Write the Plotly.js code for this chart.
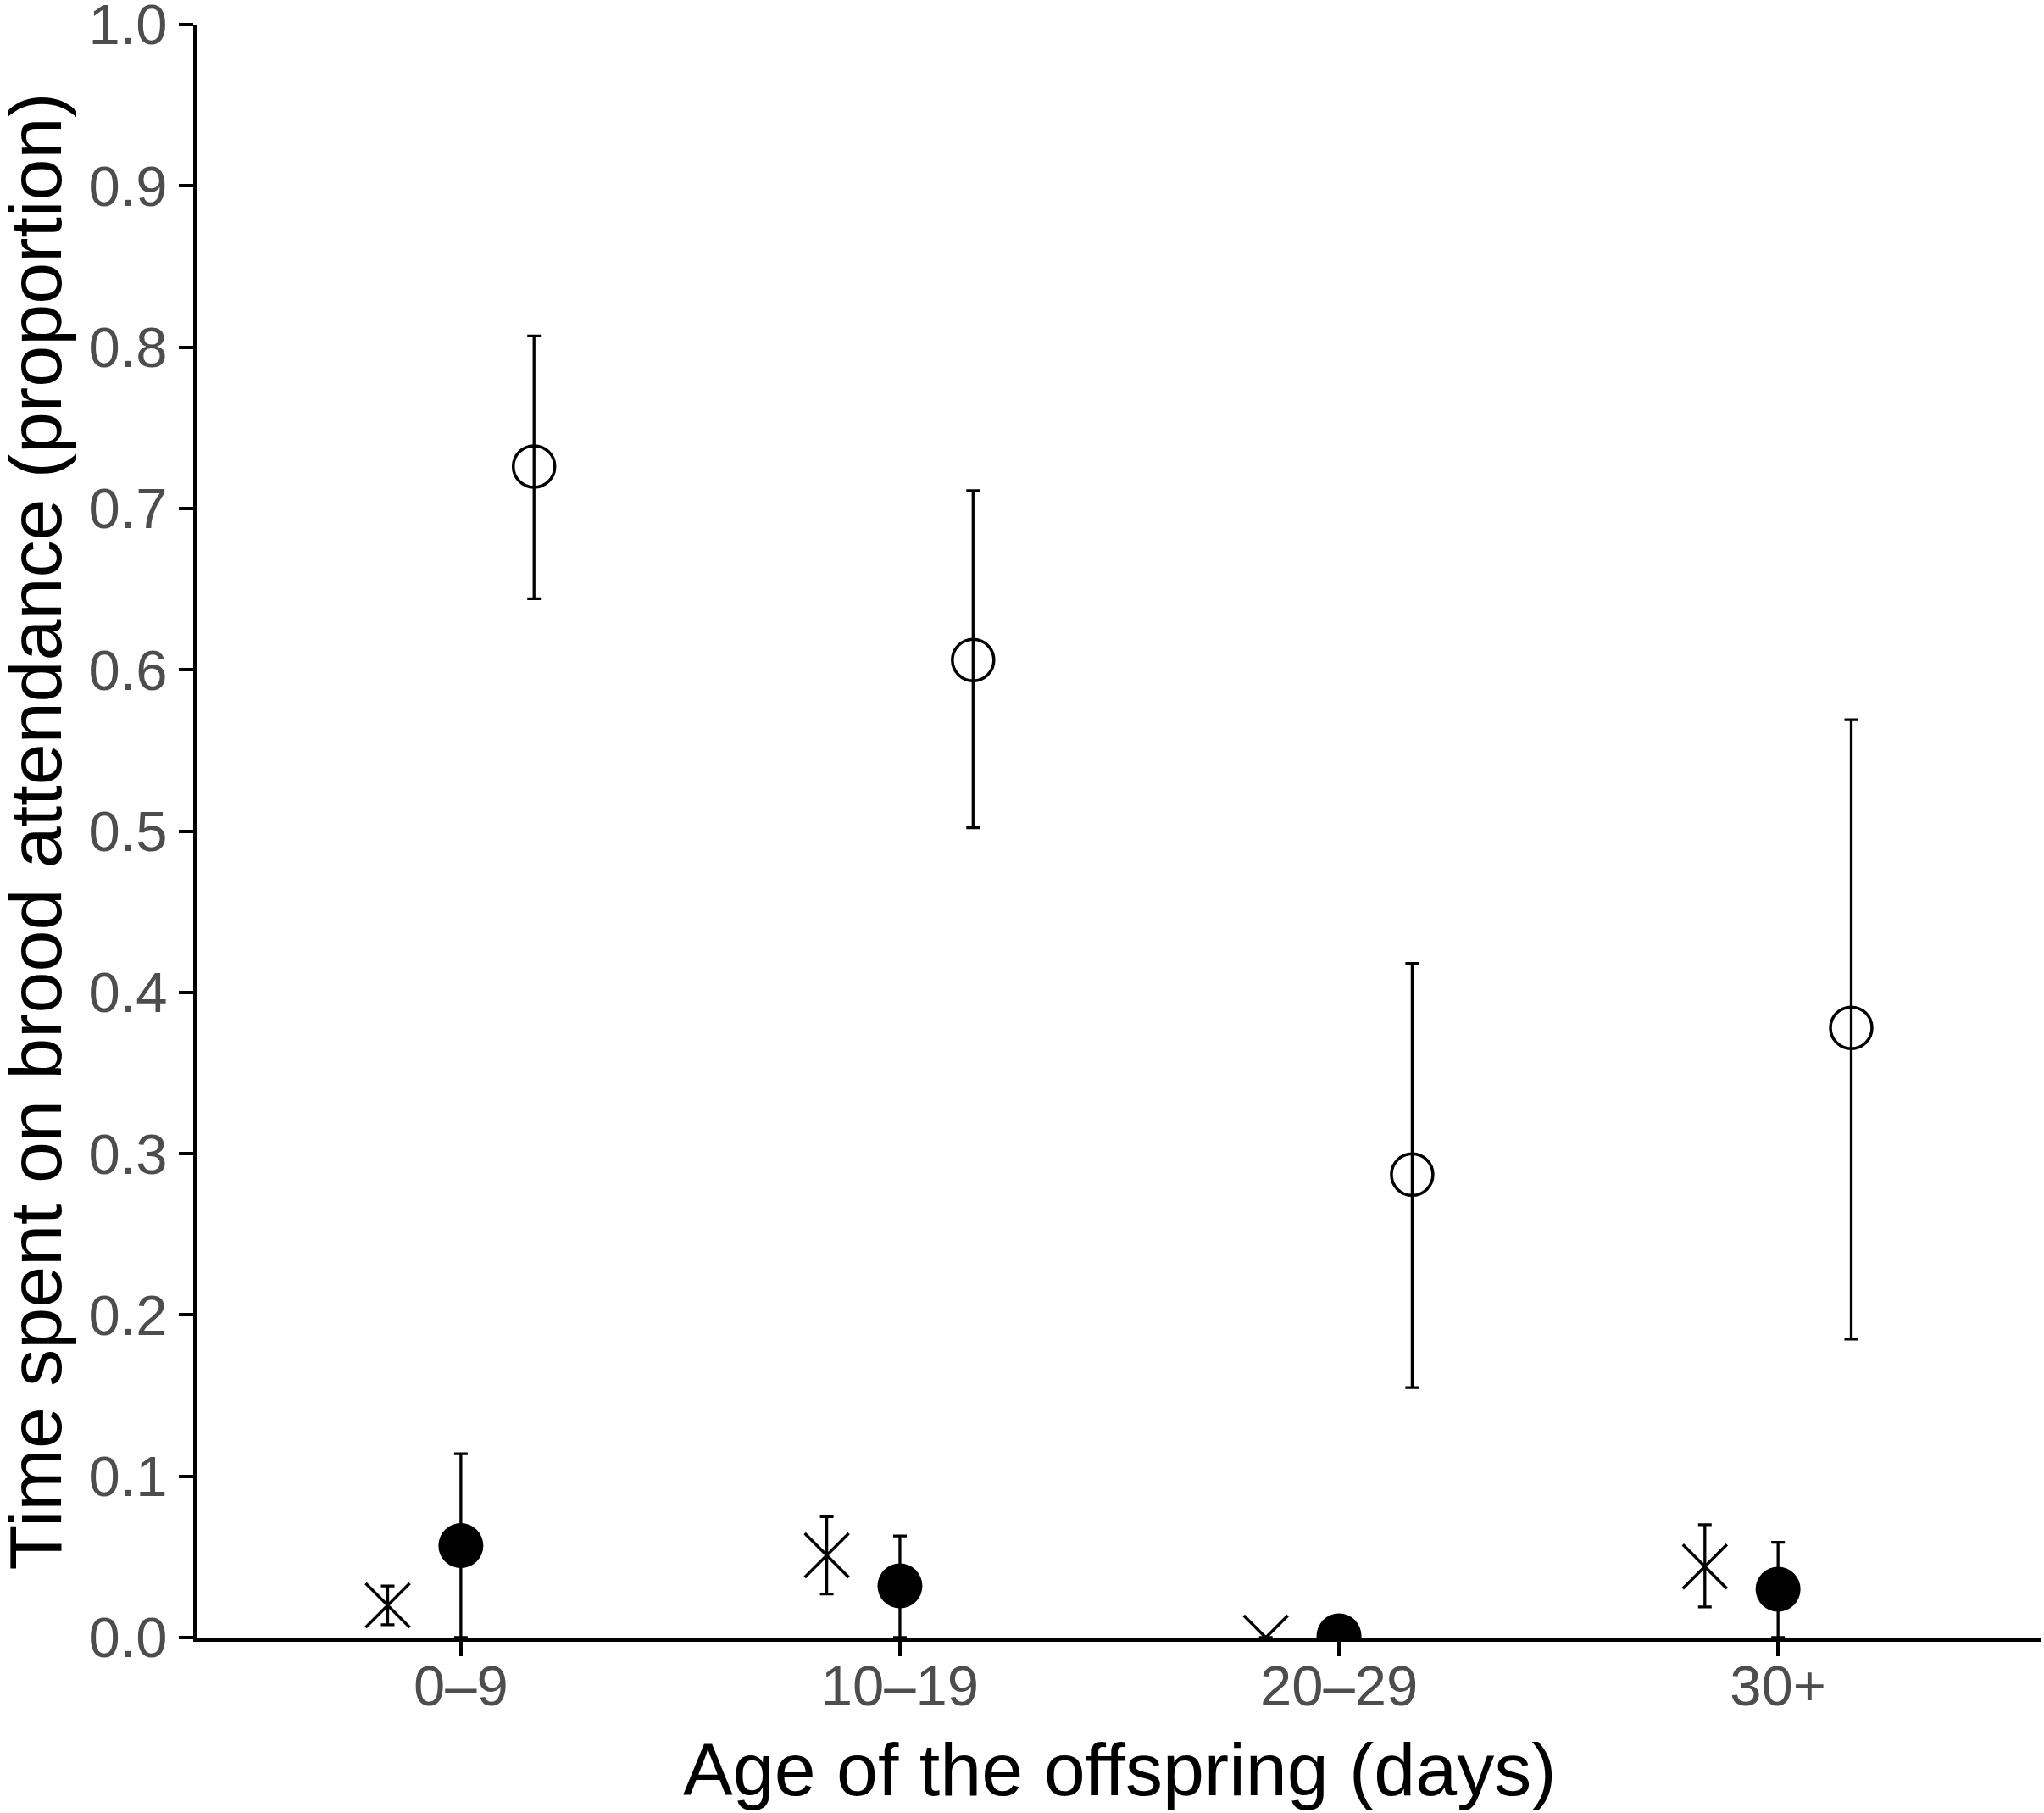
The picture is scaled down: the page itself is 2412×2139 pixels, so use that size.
<!DOCTYPE html>
<html>
<head>
<meta charset="utf-8">
<script src="https://cdn.plot.ly/plotly-3.0.1.min.js"></script>
<style>
    body { margin: 0; background: #fff; }
    #plot { width: 2412px; height: 2139px; }
</style>
</head>
<body>
<div id="plot"></div>
<script>
// age classes of the offspring
var ageClasses = ['0–9', '10–19', '20–29', '30+'];

// series drawn as crosses (left of each class)
var crossMean = [0.020, 0.051, 0.000, 0.044];
var crossLow = [0.008, 0.027, 0.000, 0.019];
var crossHigh = [0.032, 0.075, 0.000, 0.070];

// series drawn as filled circles (centre of each class)
var filledMean = [0.057, 0.032, 0.001, 0.030];
var filledLow = [0.000, 0.000, 0.001, 0.000];
var filledHigh = [0.114, 0.063, 0.001, 0.059];

// series drawn as open circles (right of each class)
var openMean = [0.726, 0.606, 0.287, 0.378];
var openLow = [0.644, 0.502, 0.155, 0.185];
var openHigh = [0.807, 0.711, 0.418, 0.569];

var yTicks = [0, 0.1, 0.2, 0.3, 0.4, 0.5, 0.6, 0.7, 0.8, 0.9, 1.0];

var xTitle = 'Age of the offspring (days)';
var yTitle = 'Time spent on brood attendance (proportion)';

var dodge = 1 / 6;

function makeTrace(mean, low, high, offset, marker) {
    var xs = [];
    var plus = [];
    var minus = [];
    for (var i = 0; i < mean.length; i++) {
        xs.push(i + offset);
        plus.push(high[i] - mean[i]);
        minus.push(mean[i] - low[i]);
    }
    return {
        x: xs,
        y: mean,
        mode: 'markers',
        type: 'scatter',
        marker: marker,
        error_y: {
            type: 'data',
            symmetric: false,
            array: plus,
            arrayminus: minus,
            color: '#000',
            thickness: 3.3,
            width: 8
        },
        showlegend: false,
        hoverinfo: 'skip'
    };
}

var trace0 = makeTrace(crossMean, crossLow, crossHigh, -dodge, {
    symbol: 'x-thin-open',
    size: 52,
    color: '#000',
    line: { width: 3.5, color: '#000' }
});

var trace1 = makeTrace(filledMean, filledLow, filledHigh, 0, {
    symbol: 'circle',
    size: 53,
    color: '#000',
    line: { width: 0 }
});

var trace2 = makeTrace(openMean, openLow, openHigh, dodge, {
    symbol: 'circle-open',
    size: 49,
    color: '#000',
    line: { width: 3.5, color: '#000' }
});

var font = '"Liberation Sans", Arial, Helvetica, sans-serif';

var layout = {
    width: 2412,
    height: 2139,
    margin: { l: 233, r: 3, t: 29, b: 207 },
    paper_bgcolor: '#fff',
    plot_bgcolor: '#fff',
    showlegend: false,
    font: { family: font, color: '#000' },
    xaxis: {
        range: [-0.6, 3.6],
        tickmode: 'array',
        tickvals: [0, 1, 2, 3],
        ticktext: ageClasses,
        ticks: 'outside',
        ticklen: 17,
        tickwidth: 4,
        tickcolor: '#000',
        tickfont: { size: 67, color: '#4D4D4D', family: font },
        ticklabelstandoff: -22,
        ticklabeloverflow: 'allow',
        showline: true,
        linecolor: '#000',
        linewidth: 5,
        showgrid: false,
        zeroline: false
    },
    yaxis: {
        range: [0, 1],
        tickmode: 'array',
        tickvals: yTicks,
        tickformat: '.1f',
        ticks: 'outside',
        ticklen: 17,
        tickwidth: 4,
        tickcolor: '#000',
        tickfont: { size: 67, color: '#4D4D4D', family: font },
        ticklabelstandoff: 0,
        ticklabeloverflow: 'allow',
        showline: true,
        linecolor: '#000',
        linewidth: 5,
        showgrid: false,
        zeroline: false
    },
    // axis titles as annotations so they sit where the original puts them
    annotations: [
        {
            text: xTitle,
            xref: 'paper',
            yref: 'paper',
            x: 0.5,
            y: -0.0815,
            xanchor: 'center',
            yanchor: 'middle',
            showarrow: false,
            font: { size: 88, color: '#000', family: font }
        },
        {
            text: yTitle,
            xref: 'paper',
            yref: 'paper',
            x: -0.0878,
            y: 0.5,
            xanchor: 'center',
            yanchor: 'middle',
            textangle: -90,
            showarrow: false,
            font: { size: 88, color: '#000', family: font }
        }
    ]
};

var config = {
    staticPlot: true
};

Plotly.newPlot('plot', [trace0, trace1, trace2], layout, config);
</script>
</body>
</html>
